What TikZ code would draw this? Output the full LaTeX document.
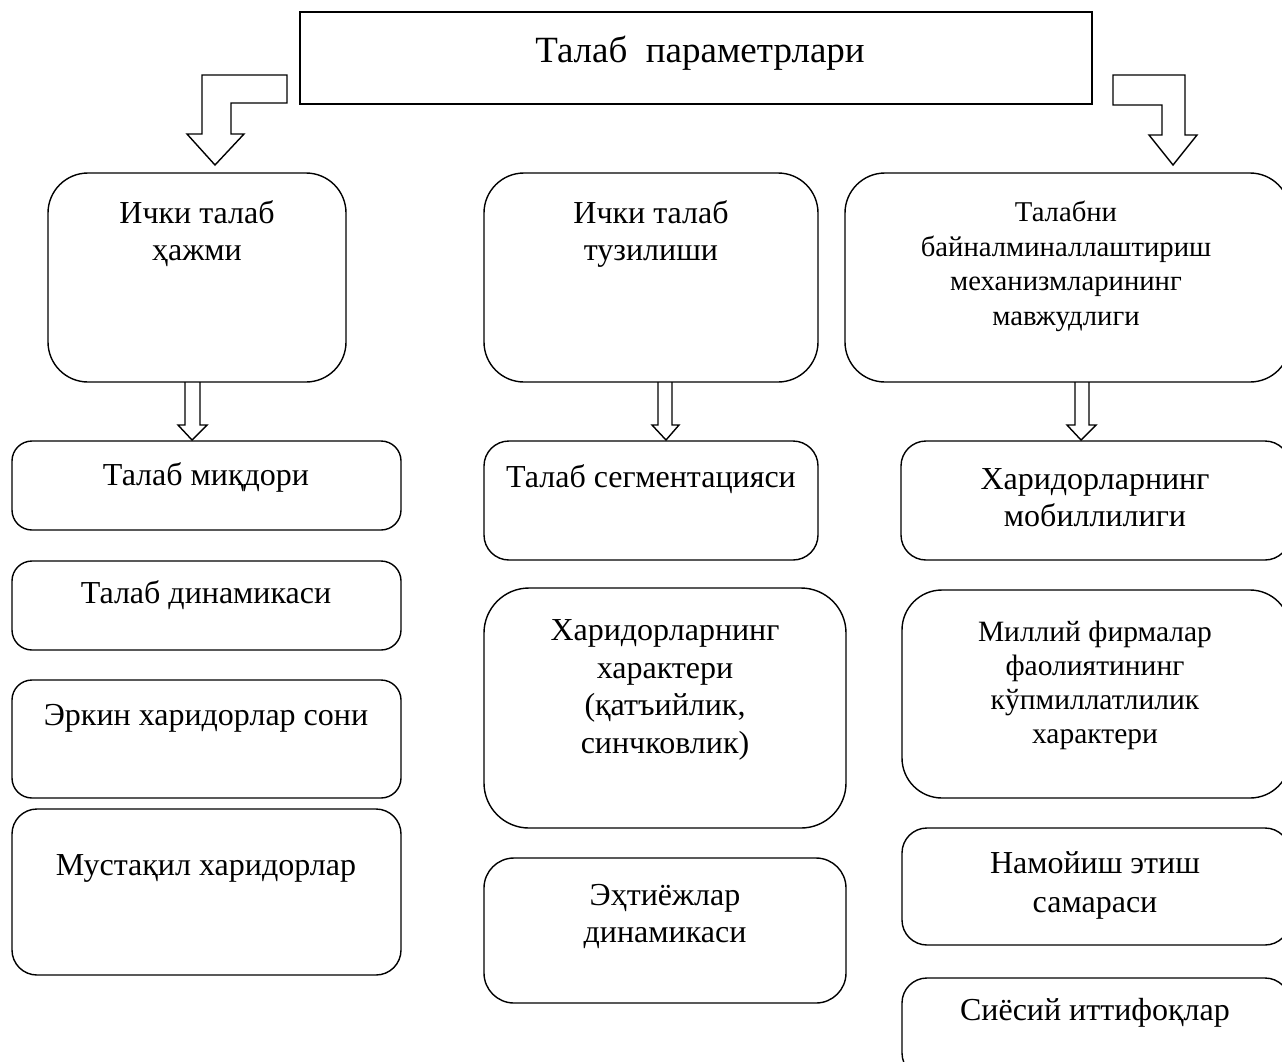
\documentclass[tikz,border=0pt]{standalone}
\usepackage{fontspec}
\setmainfont{Liberation Serif}
\begin{document}
\begin{tikzpicture}[x=1pt,y=-1pt,
  frame/.style={draw, line width=1.4pt, inner sep=0pt, outer sep=0pt, anchor=north west},
  card/.style={frame, rounded corners=#1},
  % multi-line labels are placed by the baseline of their last line
  txt/.style={anchor=base, align=center, inner sep=0pt, font=\fontsize{32}{37}\selectfont},
  blk/.style={draw, line width=1.4pt, line join=miter}]
\useasboundingbox (0,0) rectangle (1282,1061);

% heading
\node[frame, minimum width=792pt, minimum height=92pt] (top) at (300,12) {};
\node[txt, font=\fontsize{37}{44}\selectfont] (ttop) at (700,62) {Талаб\ \ параметрлари};

% bent block arrows from the heading
\draw[blk] (287,75) -- (202,75) -- (202,134) -- (187,134) -- (215,165) -- (244,134)
  -- (231,134) -- (231,103) -- (287,103) -- cycle;
\draw[blk] (1113,75) -- (1185,75) -- (1185,135) -- (1197,135) -- (1173,165) -- (1149,135)
  -- (1162,135) -- (1162,105) -- (1113,105) -- cycle;

% first row
\node[card=40pt, minimum width=298pt, minimum height=209pt] (A) at (48,173) {};
\node[card=40pt, minimum width=334pt, minimum height=209pt] (B) at (484,173) {};
\node[card=40pt, minimum width=445pt, minimum height=209pt] (C) at (845,173) {};
\node[txt] (tA) at (197,260) {Ички талаб\\ҳажми};
\node[txt] (tB) at (651,260) {Ички талаб\\тузилиши};
\node[txt, font=\fontsize{28.7}{34.5}\selectfont] (tC) at (1066,325)
  {Талабни\\байналминаллаштириш\\механизмларининг\\мавжудлиги};

% double-line arrows down to the columns
\draw[blk] (185,382) -- (185,425) -- (178,425) -- (192,440) -- (207,425) -- (200,425) -- (200,382);
\draw[blk] (658,382) -- (658,425) -- (652,425) -- (666,440) -- (679,425) -- (672,425) -- (672,382);
\draw[blk] (1075,382) -- (1075,425) -- (1067,425) -- (1081,440) -- (1096,425) -- (1089,425) -- (1089,382);

% left column
\node[card=20pt, minimum width=389pt, minimum height=89pt] (L1) at (12,441) {};
\node[card=20pt, minimum width=389pt, minimum height=89pt] (L2) at (12,561) {};
\node[card=20pt, minimum width=389pt, minimum height=118pt] (L3) at (12,680) {};
\node[card=25pt, minimum width=389pt, minimum height=166pt] (L4) at (12,809) {};
\node[txt] (tL1) at (206,485) {Талаб миқдори};
\node[txt] (tL2) at (206,603) {Талаб динамикаси};
\node[txt] (tL3) at (206,725) {Эркин харидорлар сони};
\node[txt] (tL4) at (206,875) {Мустақил харидорлар};

% middle column
\node[card=25pt, minimum width=334pt, minimum height=119pt] (M1) at (484,441) {};
\node[card=45pt, minimum width=362pt, minimum height=240pt] (M2) at (484,588) {};
\node[card=30pt, minimum width=362pt, minimum height=145pt] (M3) at (484,858) {};
\node[txt] (tM1) at (651,487) {Талаб сегментацияси};
\node[txt, font=\fontsize{32}{37.5}\selectfont] (tM2) at (665,753)
  {Харидорларнинг\\характери\\(қатъийлик,\\синчковлик)};
\node[txt] (tM3) at (665,942) {Эҳтиёжлар\\динамикаси};

% right column
\node[card=25pt, minimum width=389pt, minimum height=119pt] (R1) at (901,441) {};
\node[card=40pt, minimum width=388pt, minimum height=208pt] (R2) at (902,590) {};
\node[card=25pt, minimum width=388pt, minimum height=117pt] (R3) at (902,828) {};
\node[card=25pt, minimum width=388pt, minimum height=100pt] (R4) at (902,978) {};
\node[txt] (tR1) at (1095,526) {Харидорларнинг\\мобиллилиги};
\node[txt, font=\fontsize{29.5}{34}\selectfont] (tR2) at (1095,743)
  {Миллий фирмалар\\фаолиятининг\\кўпмиллатлилик\\характери};
\node[txt, font=\fontsize{32}{39}\selectfont] (tR3) at (1095,912) {Намойиш этиш\\самараси};
\node[txt] (tR4) at (1095,1020) {Сиёсий иттифоқлар};
\end{tikzpicture}
\end{document}
